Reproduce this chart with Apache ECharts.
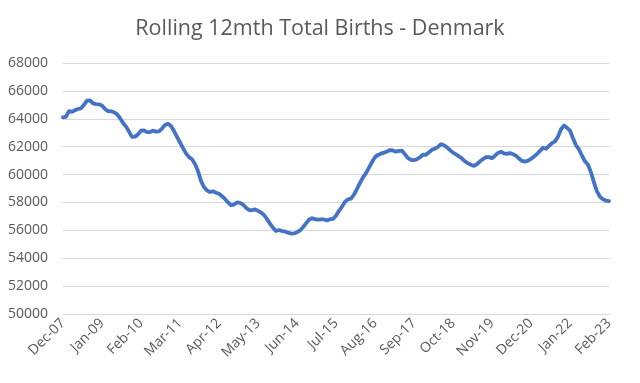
<!DOCTYPE html>
<html>
<head>
<meta charset="utf-8">
<script src="https://cdn.jsdelivr.net/npm/echarts@6/dist/echarts.min.js"></script>
<style>html,body{margin:0;padding:0;background:#fff;}#c{width:640px;height:383px;}</style>
</head>
<body>
<div id="c"></div>
<script>
const titleText = "Rolling 12mth Total Births - Denmark";
const startYear = 2007, startMonth = 11; // Dec-07
const monthNames = ["Jan","Feb","Mar","Apr","May","Jun","Jul","Aug","Sep","Oct","Nov","Dec"];
const births = [
64100,64160,64550,64500,64620,64700,64750,65000,65300,65320,
65100,65050,65040,64950,64700,64550,64540,64470,64330,64050,
63700,63440,63080,62700,62720,62880,63150,63170,63040,63050,
63150,63080,63100,63300,63560,63650,63480,63120,62700,62300,
61900,61520,61250,61100,60750,60250,59550,59100,58850,58750,
58800,58700,58620,58450,58250,58000,57800,57850,58000,57970,
57850,57620,57450,57440,57500,57400,57280,57100,56800,56480,
56180,55950,56020,55950,55920,55830,55770,55780,55870,55990,
56220,56500,56760,56870,56800,56760,56790,56780,56710,56800,
56820,57050,57400,57700,58050,58220,58270,58560,58980,59400,
59800,60100,60500,60900,61250,61410,61500,61570,61660,61760,
61730,61640,61700,61720,61450,61180,61060,61040,61100,61240,
61420,61420,61600,61780,61860,61980,62180,62100,61950,61750,
61570,61450,61300,61150,60950,60800,60700,60620,60750,60950,
61110,61250,61250,61170,61350,61550,61640,61520,61480,61540,
61450,61350,61150,60980,60930,61000,61120,61300,61470,61700,
61920,61850,62050,62260,62380,62720,63250,63520,63350,63150,
62600,62100,61800,61350,60950,60700,60150,59420,58800,58400,
58230,58130,58100
];
const categories = births.map((_, i) => {
  const m = (startMonth + i) % 12;
  const y = startYear + Math.floor((startMonth + i) / 12);
  return monthNames[m] + "-" + String(y % 100).padStart(2, "0");
});
const yMin = 50000, yMax = 68000, yStep = 2000;

const chart = echarts.init(document.getElementById('c'), null, {renderer: 'canvas'});
chart.setOption({
  animation: false,
  backgroundColor: '#ffffff',
  title: {
    text: titleText,
    left: 'center',
    top: 13,
    textStyle: {fontFamily: 'Open Sans', fontSize: 21.5, fontWeight: 'normal', color: '#595959'}
  },
  grid: {left: 63, right: 31, top: 63, bottom: 69, containLabel: false},
  xAxis: {
    type: 'category',
    data: categories,
    boundaryGap: false,
    axisLine: {show: true, lineStyle: {color: '#d9d9d9', width: 1}},
    axisTick: {show: false},
    axisLabel: {
      interval: 12,
      rotate: 45,
      margin: 7,
      color: '#595959',
      fontFamily: 'Open Sans',
      fontSize: 14
    },
    splitLine: {show: false}
  },
  yAxis: {
    type: 'value',
    min: yMin, max: yMax, interval: yStep,
    axisLine: {show: false},
    axisTick: {show: false},
    axisLabel: {color: '#595959', fontFamily: 'Open Sans', fontSize: 14, margin: 15,
      formatter: v => String(v)},
    splitLine: {lineStyle: {color: '#d9d9d9', width: 1}}
  },
  series: [{
    type: 'line',
    data: births,
    showSymbol: false,
    smooth: false,
    lineStyle: {color: '#4472c4', width: 3.8, cap: 'round', join: 'round'},
    itemStyle: {color: '#4472c4'}
  }]
});
</script>
</body>
</html>
